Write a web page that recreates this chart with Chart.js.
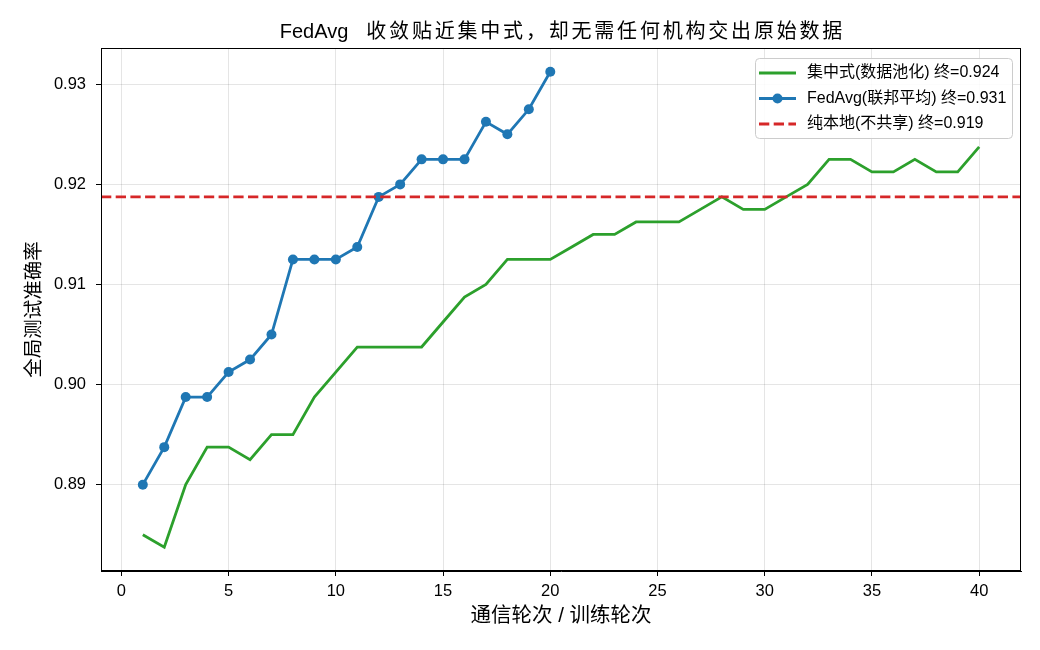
<!DOCTYPE html>
<html>
<head>
<meta charset="utf-8">
<script src="https://cdn.jsdelivr.net/npm/chart.js@4"></script>
<style>
  html, body { margin: 0; padding: 0; background: #fff; }
  #wrap { width: 1040px; height: 650px; }
</style>
</head>
<body>
<div id="wrap"><canvas id="fedChart" width="1040" height="650"></canvas></div>
<script>
// rounds and accuracies
const centralRounds = Array.from({ length: 40 }, (_, i) => i + 1);
const centralAcc = [
  0.885, 0.88375, 0.89, 0.89375, 0.89375, 0.8925, 0.895, 0.895, 0.89875, 0.90125,
  0.90375, 0.90375, 0.90375, 0.90375, 0.90625, 0.90875, 0.91, 0.9125, 0.9125, 0.9125,
  0.91375, 0.915, 0.915, 0.91625, 0.91625, 0.91625, 0.9175, 0.91875, 0.9175, 0.9175,
  0.91875, 0.92, 0.9225, 0.9225, 0.92125, 0.92125, 0.9225, 0.92125, 0.92125, 0.92375,
];
const fedRounds = Array.from({ length: 20 }, (_, i) => i + 1);
const fedAcc = [
  0.89, 0.89375, 0.89875, 0.89875, 0.90125, 0.9025, 0.905, 0.9125, 0.9125, 0.9125,
  0.91375, 0.91875, 0.92, 0.9225, 0.9225, 0.9225, 0.92625, 0.925, 0.9275, 0.93125,
];
const localAcc = 0.91875;

const xTicks = [0, 5, 10, 15, 20, 25, 30, 35, 40];
const yTicks = [0.89, 0.9, 0.91, 0.92, 0.93];
const X_MIN = -0.95, X_MAX = 41.95;
const Y_MIN = 0.881375, Y_MAX = 0.933625;

const titleHead = "FedAvg";
const titleTail = "收敛贴近集中式，却无需任何机构交出原始数据";
const seriesLabels = [
  "集中式(数据池化) 终=0.924",
  "FedAvg(联邦平均) 终=0.931",
  "纯本地(不共享) 终=0.919",
];

const FONT = "'Liberation Sans', 'Noto Sans CJK SC', sans-serif";
const GREEN = "#2ca02c", BLUE = "#1f77b4", RED = "#d62728";

// title (CJK part a little spaced out), full frame, legend in the top right corner
const framePlugin = {
  id: "frame",
  afterDraw(chart) {
    const { ctx, chartArea: a } = chart;
    ctx.save();

    ctx.font = "20px " + FONT;
    ctx.fillStyle = "#000";
    ctx.textBaseline = "middle";
    ctx.textAlign = "left";
    const gap = 18, spacing = 2.8;
    const headW = ctx.measureText(titleHead).width;
    ctx.letterSpacing = spacing + "px";
    const tailW = ctx.measureText(titleTail).width - spacing;
    const startX = (a.left + a.right) / 2 - (headW + gap + tailW) / 2;
    ctx.letterSpacing = "0px";
    ctx.fillText(titleHead, startX, 32);
    ctx.letterSpacing = spacing + "px";
    ctx.fillText(titleTail, startX + headW + gap, 32);
    ctx.letterSpacing = "0px";

    ctx.strokeStyle = "#000";
    ctx.lineWidth = 1;
    ctx.strokeRect(a.left + 0.5, a.top + 0.5, a.right - a.left - 1, a.bottom - a.top - 1);

    const boxW = 257, boxH = 80;
    const bx = a.right - 9 - boxW, by = a.top + 10;
    ctx.beginPath();
    ctx.roundRect(bx + 0.5, by + 0.5, boxW, boxH, 4);
    ctx.fillStyle = "rgba(255,255,255,0.85)";
    ctx.fill();
    ctx.strokeStyle = "#cccccc";
    ctx.stroke();

    ctx.font = "16px " + FONT;
    chart.data.datasets.forEach((ds, i) => {
      const y = by + 15 + i * 25.5;
      const x0 = bx + 4, x1 = bx + 41;
      ctx.beginPath();
      ctx.strokeStyle = ds.borderColor;
      ctx.lineWidth = ds.borderWidth;
      ctx.setLineDash(ds.borderDash || []);
      ctx.moveTo(x0, y);
      ctx.lineTo(x1, y);
      ctx.stroke();
      ctx.setLineDash([]);
      if (ds.pointRadius > 0) {
        ctx.beginPath();
        ctx.fillStyle = ds.borderColor;
        ctx.arc((x0 + x1) / 2, y, ds.pointRadius, 0, Math.PI * 2);
        ctx.fill();
      }
      ctx.fillStyle = "#000";
      ctx.fillText(ds.label, bx + 52, y);
    });
    ctx.restore();
  },
};

new Chart(document.getElementById("fedChart"), {
  type: "line",
  data: {
    datasets: [
      {
        label: seriesLabels[0],
        data: centralRounds.map((r, i) => ({ x: r, y: centralAcc[i] })),
        borderColor: GREEN,
        backgroundColor: GREEN,
        borderWidth: 2.8,
        pointRadius: 0,
        tension: 0,
        order: 3,
      },
      {
        label: seriesLabels[1],
        data: fedRounds.map((r, i) => ({ x: r, y: fedAcc[i] })),
        borderColor: BLUE,
        backgroundColor: BLUE,
        pointBackgroundColor: BLUE,
        pointBorderWidth: 0,
        borderWidth: 2.8,
        pointRadius: 5,
        tension: 0,
        order: 2,
      },
      {
        label: seriesLabels[2],
        data: [{ x: X_MIN, y: localAcc }, { x: X_MAX, y: localAcc }],
        borderColor: RED,
        backgroundColor: RED,
        borderWidth: 2.8,
        borderDash: [10.3, 4.4],
        pointRadius: 0,
        order: 1,
      },
    ],
  },
  options: {
    responsive: false,
    animation: false,
    layout: { padding: { top: 48, left: 0, right: 19, bottom: 0 } },
    plugins: {
      legend: { display: false },
      tooltip: { enabled: false },
      title: { display: false },
    },
    scales: {
      x: {
        type: "linear",
        min: X_MIN,
        max: X_MAX,
        afterBuildTicks: (s) => { s.ticks = xTicks.map((v) => ({ value: v })); },
        afterFit: (s) => { s.height = 79; },
        ticks: {
          autoSkip: false,
          color: "#000",
          padding: 6,
          font: { family: FONT, size: 16.5 },
        },
        grid: { color: "rgba(0,0,0,0.1)", tickColor: "#000", tickLength: 5 },
        border: { color: "#000", width: 1 },
        title: {
          display: true,
          text: "通信轮次 / 训练轮次",
          color: "#000",
          font: { family: FONT, size: 20.5 },
          padding: { top: 0, bottom: 21 },
        },
      },
      y: {
        type: "linear",
        min: Y_MIN,
        max: Y_MAX,
        afterBuildTicks: (s) => { s.ticks = yTicks.map((v) => ({ value: v })); },
        afterFit: (s) => { s.width = 101; },
        ticks: {
          color: "#000",
          padding: 10,
          font: { family: FONT, size: 16.5 },
          callback: (v) => v.toFixed(2),
        },
        grid: { color: "rgba(0,0,0,0.1)", tickColor: "#000", tickLength: 5 },
        border: { color: "#000", width: 1 },
        title: {
          display: true,
          text: "全局测试准确率",
          color: "#000",
          font: { family: FONT, size: 19.5 },
          padding: { top: 23, bottom: 0 },
        },
      },
    },
  },
  plugins: [framePlugin],
});
</script>
</body>
</html>
